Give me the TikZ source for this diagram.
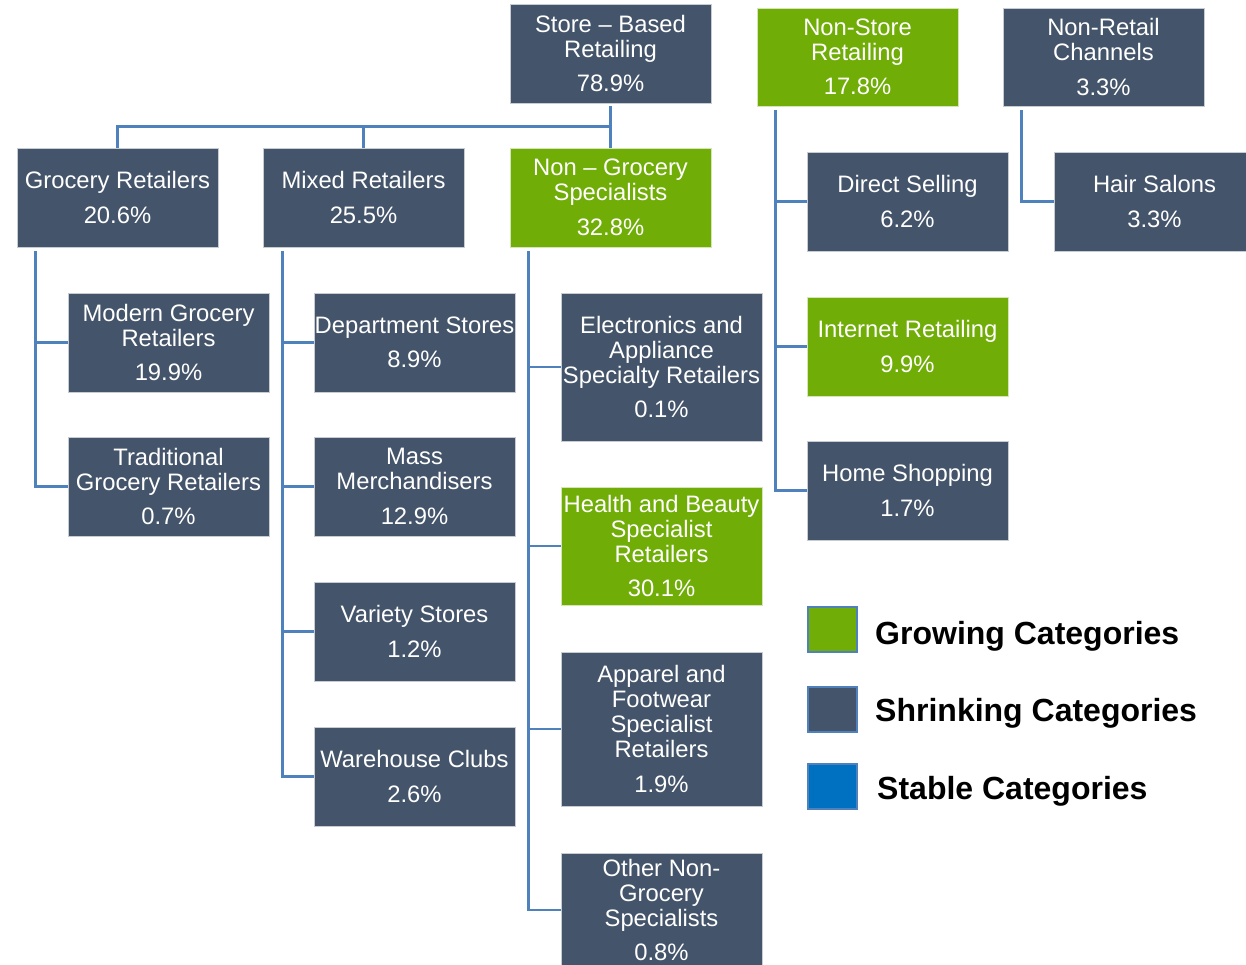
\documentclass[tikz,border=0pt]{standalone}
\usepackage{fontspec}
\setmainfont{Liberation Sans}
\definecolor{slate}{HTML}{44546A}
\definecolor{grow}{HTML}{70AD07}
\definecolor{stable}{HTML}{0070C0}
\definecolor{conncol}{HTML}{4F81BD}
\tikzset{
  box/.style={draw=white!70!slate, line width=0.8pt, fill=slate, text=white, minimum width=201pt, inner sep=0pt, align=center, font=\fontsize{23.8}{25}\selectfont},
  gbox/.style={box, fill=grow, draw=white!70!grow},
  conn/.style={draw=conncol, line width=2.6pt},
  legsq/.style={draw=conncol, line width=2pt, minimum width=49pt, minimum height=45pt, inner sep=0pt},
  legtxt/.style={anchor=west, inner sep=0pt, font=\fontsize{32}{34}\selectfont\bfseries}
}
\newcommand{\pc}[1]{\\[9.5pt]#1}
\begin{document}
\begin{tikzpicture}[x=1pt,y=-1pt]
\useasboundingbox (0,0) rectangle (1246,964);
\clip (0,0) rectangle (1246,964);
% top level
\node[box, minimum height=99pt] (store) at (610.5,53.5) {Store -- Based\\Retailing\pc{78.9\%}};
\node[gbox, minimum height=98pt] (nonstore) at (857.5,57) {Non-Store\\Retailing\pc{17.8\%}};
\node[box, minimum height=98pt] (nonretail) at (1103.5,57) {Non-Retail\\Channels\pc{3.3\%}};
% second level
\node[box, minimum height=99pt] (groc) at (117.5,197.5) {Grocery Retailers\pc{20.6\%}};
\node[box, minimum height=99pt] (mixed) at (363.5,197.5) {Mixed Retailers\pc{25.5\%}};
\node[gbox, minimum height=99pt] (nongroc) at (610.5,197.5) {Non -- Grocery\\Specialists\pc{32.8\%}};
% grocery children
\node[box, minimum height=99pt] (modern) at (168.5,342.5) {Modern Grocery\\Retailers\pc{19.9\%}};
\node[box, minimum height=99pt] (trad) at (168.5,486.5) {Traditional\\Grocery Retailers\pc{0.7\%}};
% mixed children
\node[box, minimum height=99pt] (dept) at (414.5,342.5) {Department Stores\pc{8.9\%}};
\node[box, minimum height=99pt] (mass) at (414.5,486.5) {Mass\\Merchandisers\pc{12.9\%}};
\node[box, minimum height=99pt] (variety) at (414.5,631.5) {Variety Stores\pc{1.2\%}};
\node[box, minimum height=99pt] (warehouse) at (414.5,776.5) {Warehouse Clubs\pc{2.6\%}};
% non-grocery children
\node[box, minimum height=148pt] (elec) at (661.5,367) {Electronics and\\Appliance\\Specialty Retailers\pc{0.1\%}};
\node[gbox, minimum height=118pt] (health) at (661.5,546) {Health and Beauty\\Specialist\\Retailers\pc{30.1\%}};
\node[box, minimum height=154pt] (apparel) at (661.5,729) {Apparel and\\Footwear\\Specialist\\Retailers\pc{1.9\%}};
\node[box, minimum height=114pt] (other) at (661.5,910) {Other Non-\\Grocery\\Specialists\pc{0.8\%}};
% non-store children
\node[box, minimum height=99pt] (direct) at (907.5,201.5) {Direct Selling\pc{6.2\%}};
\node[gbox, minimum height=99pt] (internet) at (907.5,346.5) {Internet Retailing\pc{9.9\%}};
\node[box, minimum height=99pt] (home) at (907.5,490.5) {Home Shopping\pc{1.7\%}};
% non-retail child
\node[box, minimum height=99pt] (hair) at (1154.5,201.5) {Hair Salons\pc{3.3\%}};
% connectors: store-based bus
\draw[conn] ([yshift=-3pt]store.south) -- ++(0,20) coordinate (bus);
\draw[conn] (groc.north) |- (bus);
\draw[conn] (mixed.north) -- (mixed.north |- bus);
\draw[conn] (bus) -- (nongroc.north);
% grocery
\coordinate (gl) at ([xshift=19pt,yshift=-4pt]groc.south west);
\draw[conn] (gl) |- (trad.west);
\draw[conn] (gl |- modern.west) -- (modern.west);
% mixed
\coordinate (ml) at ([xshift=20pt,yshift=-4pt]mixed.south west);
\draw[conn] (ml) |- (warehouse.west);
\draw[conn] (ml |- dept.west) -- (dept.west);
\draw[conn] (ml |- mass.west) -- (mass.west);
\draw[conn] (ml |- variety.west) -- (variety.west);
% non-grocery
\coordinate (nl) at ([xshift=19pt,yshift=-4pt]nongroc.south west);
\draw[conn] (nl) |- (other.west);
\draw[conn] (nl |- elec.west) -- (elec.west);
\draw[conn] (nl |- health.west) -- (health.west);
\draw[conn] (nl |- apparel.west) -- (apparel.west);
% non-store
\coordinate (sl) at ([xshift=19pt,yshift=-4pt]nonstore.south west);
\draw[conn] (sl) |- (home.west);
\draw[conn] (sl |- direct.west) -- (direct.west);
\draw[conn] (sl |- internet.west) -- (internet.west);
% non-retail
\coordinate (rl) at ([xshift=19pt,yshift=-4pt]nonretail.south west);
\draw[conn] (rl) |- (hair.west);
% legend
\node[legsq, fill=grow] (lg) at (832.5,629.5) {};
\node[legsq, fill=slate] (ls) at (832.5,709.5) {};
\node[legsq, fill=stable] (lb) at (832.5,786.5) {};
\node[legtxt] (lgt) at (875,636) {Growing Categories};
\node[legtxt] (lst) at (875,713) {Shrinking Categories};
\node[legtxt] (lbt) at (877,791) {Stable Categories};
\end{tikzpicture}
\end{document}
